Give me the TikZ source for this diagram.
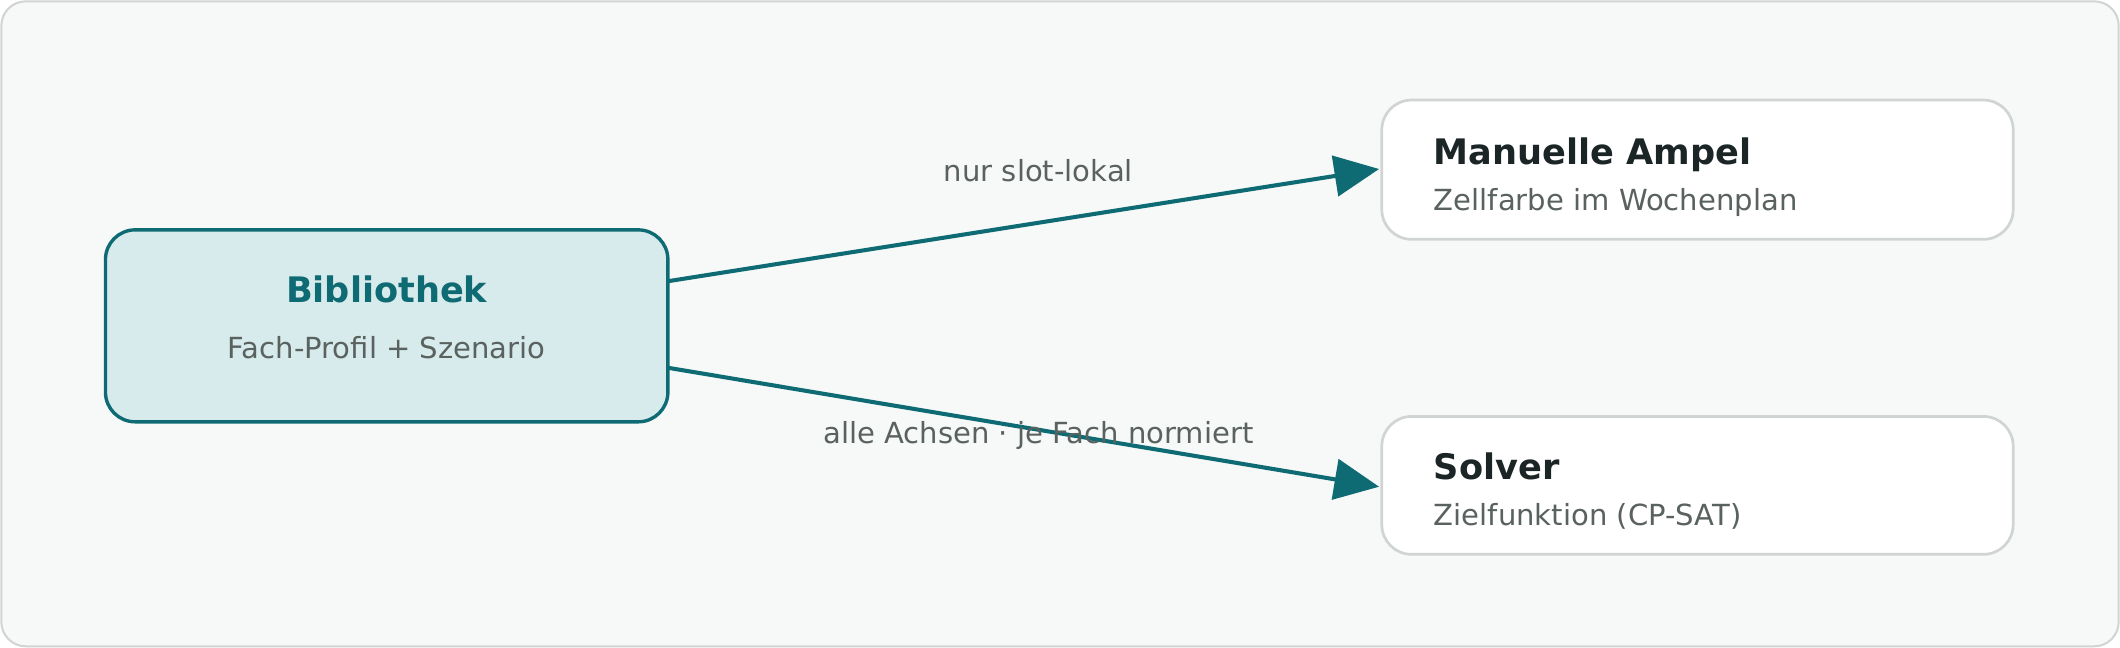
\documentclass[tikz,border=0pt]{standalone}
\usepackage{fontspec}
\setmainfont{DejaVu Sans}
\usetikzlibrary{arrows.meta}
\definecolor{bgc}{HTML}{F7F9F8}
\definecolor{bdc}{HTML}{D0D5D3}
\definecolor{teal}{HTML}{0F6B73}
\definecolor{tealfill}{HTML}{D7EBEC}
\definecolor{dark}{HTML}{1C2526}
\definecolor{muted}{HTML}{59625F}
\begin{document}
\begin{tikzpicture}[x=1pt,y=-1pt,
  box/.style={draw=bdc,line width=2pt,fill=white,rounded corners=22pt},
  ttl/.style={font=\fontsize{26}{30}\selectfont\bfseries,text=dark,anchor=base west},
  sub/.style={font=\fontsize{21.5}{26}\selectfont,text=muted,anchor=base west},
  lbl/.style={font=\fontsize{21.5}{26}\selectfont,text=muted,anchor=base},
  arr/.style={draw=teal,line width=3pt,-{Triangle[length=33pt,width=30pt]}}]
\useasboundingbox (0,0) rectangle (1568,479);
\draw[draw=bdc,line width=1.5pt,fill=bgc,rounded corners=18pt] (1,1) rectangle (1567,478);
\draw[draw=teal,line width=2.5pt,fill=tealfill,rounded corners=22pt] (78,170) rectangle (494,312);
\node[font=\fontsize{26}{30}\selectfont\bfseries,text=teal,anchor=base] (bt) at (286,224) {Bibliothek};
\node[font=\fontsize{21.5}{26}\selectfont,text=muted,anchor=base] (bs) at (286,265) {Fach-Profil + Szenario};
\draw[box] (1022,74) rectangle (1489,177);
\node[ttl] (mt) at (1057,122) {Manuelle Ampel};
\node[sub] (ms) at (1057,156) {Zellfarbe im Wochenplan};
\draw[box] (1022,308) rectangle (1489,410);
\node[ttl] (st) at (1057,355) {Solver};
\node[sub] (ss) at (1057,389) {Zielfunktion (CP-SAT)};
\coordinate (a1) at (494,208);
\coordinate (b1) at (1020,125);
\coordinate (a2) at (494,272);
\coordinate (b2) at (1020,360);
\draw[arr] (a1) -- (b1);
\draw[arr] (a2) -- (b2);
\node[lbl] (l1) at (768,134) {nur slot-lokal};
\node[lbl] (l2) at (768,328) {alle Achsen · je Fach normiert};
\end{tikzpicture}
\end{document}
